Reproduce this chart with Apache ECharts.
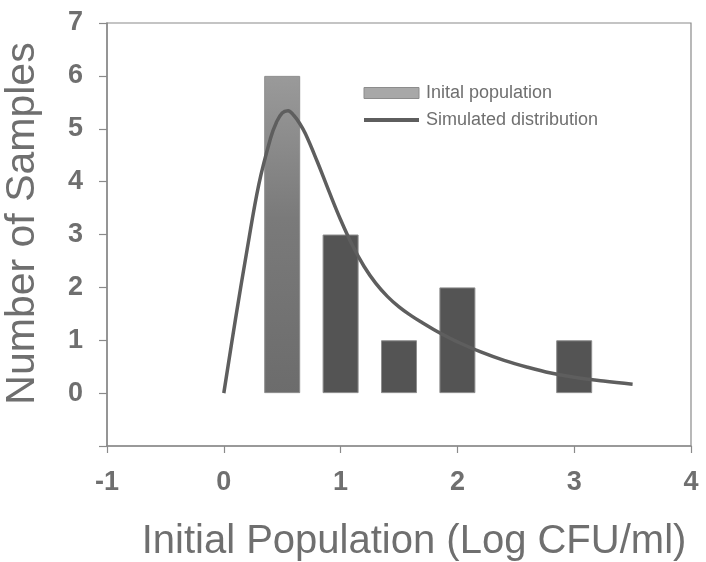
<!DOCTYPE html>
<html>
<head>
<meta charset="utf-8">
<style>
  html, body { margin: 0; padding: 0; background: #ffffff; }
  #chart { width: 706px; height: 562px; }
</style>
<script src="https://cdn.jsdelivr.net/npm/echarts@6/dist/echarts.min.js"></script>
</head>
<body>
<div id="chart"></div>
<script>
// Histogram of initial population (log CFU/ml) per sample
const binCenters = [0.5, 1.0, 1.5, 2.0, 3.0];
const sampleCounts = [6, 3, 1, 2, 1];

// Fitted (simulated) distribution curve
const curveX = [0, 0.1, 0.2, 0.3, 0.4, 0.45, 0.5, 0.55, 0.6, 0.65, 0.7, 0.8, 0.9, 1.0, 1.1, 1.2, 1.3, 1.4, 1.5, 1.6, 1.7, 1.8, 1.9, 2.0, 2.2, 2.4, 2.6, 2.8, 3.0, 3.25, 3.5];
const curveY = [0, 1.4, 2.72, 3.95, 4.82, 5.12, 5.3, 5.34, 5.25, 5.1, 4.9, 4.38, 3.82, 3.28, 2.8, 2.4, 2.08, 1.83, 1.63, 1.47, 1.33, 1.2, 1.08, 0.97, 0.78, 0.62, 0.49, 0.38, 0.3, 0.23, 0.17];

const xTicks = [-1, 0, 1, 2, 3, 4];
const yTicks = [0, 1, 2, 3, 4, 5, 6, 7];

const textGray = '#6f6f6f';
const axisGray = '#8a8a8a';
const curveGray = '#5e5e5e';
const fontFamily = 'Liberation Sans, Arial, sans-serif';

const barData = binCenters.map((x, i) => {
  const item = { value: [x, sampleCounts[i]] };
  if (i === 0) {
    item.itemStyle = {
      color: {
        type: 'linear', x: 0, y: 0, x2: 0, y2: 1,
        colorStops: [
          { offset: 0, color: '#9a9a9a' },
          { offset: 0.45, color: '#7a7a7a' },
          { offset: 1, color: '#6c6c6c' }
        ]
      }
    };
  }
  return item;
});

const chart = echarts.init(document.getElementById('chart'), null, { renderer: 'canvas' });
chart.setOption({
  backgroundColor: '#ffffff',
  animation: false,
  grid: {
    left: 107, right: 15, top: 23, bottom: 116,
    outerBoundsMode: 'none',
    containLabel: false,
    show: true, borderColor: axisGray, borderWidth: 1.2
  },
  legend: {
    left: 362, top: 84, orient: 'vertical', padding: 0,
    itemWidth: 55, itemHeight: 11, itemGap: 9,
    textStyle: { color: textGray, fontSize: 18, fontFamily: fontFamily, padding: [0, 0, 0, 2] },
    data: [
      { name: 'Inital population', icon: 'rect', itemStyle: { color: '#a8a8a8', borderColor: '#8c8c8c', borderWidth: 1 } },
      { name: 'Simulated distribution', icon: 'inherit', itemStyle: { opacity: 0 }, lineStyle: { color: curveGray, width: 4 } }
    ]
  },
  xAxis: {
    type: 'value', min: xTicks[0], max: xTicks[xTicks.length - 1], interval: 1,
    axisLine: { show: true, onZero: false, lineStyle: { color: axisGray, width: 1.5 } },
    axisTick: { show: true, inside: false, length: 7, lineStyle: { color: axisGray, width: 1.2 } },
    splitLine: { show: false },
    axisLabel: {
      margin: 23, color: textGray, fontSize: 27, fontWeight: 'bold', fontFamily: fontFamily
    },
    name: 'Initial Population (Log CFU/ml)',
    nameLocation: 'middle', nameGap: 76,
    nameTextStyle: { color: textGray, fontSize: 40, fontFamily: fontFamily, padding: [0, 0, 0, 30] }
  },
  yAxis: {
    type: 'value', min: -1, max: yTicks[yTicks.length - 1], interval: 1,
    axisLine: { show: true, onZero: false, lineStyle: { color: axisGray, width: 1.5 } },
    axisTick: { show: true, inside: false, length: 8, lineStyle: { color: axisGray, width: 1.2 } },
    splitLine: { show: false },
    axisLabel: {
      margin: 24, color: textGray, fontSize: 27, fontWeight: 'bold', fontFamily: fontFamily,
      formatter: v => (yTicks.indexOf(v) >= 0 ? String(v) : '')
    },
    name: 'Number of Samples',
    nameLocation: 'middle', nameGap: 64,
    nameTextStyle: { color: textGray, fontSize: 41, fontFamily: fontFamily, padding: [0, 0, 0, 22] }
  },
  series: [
    {
      name: 'Inital population',
      type: 'bar',
      barWidth: 36,
      data: barData,
      itemStyle: { color: '#545454', borderColor: '#8e8e8e', borderWidth: 1 },
      z: 2
    },
    {
      name: 'Simulated distribution',
      type: 'line',
      smooth: 0.4,
      symbol: 'none',
      data: curveX.map((x, i) => [x, curveY[i]]),
      lineStyle: { color: curveGray, width: 3.5 },
      itemStyle: { color: curveGray },
      z: 3
    }
  ]
});
</script>
</body>
</html>
